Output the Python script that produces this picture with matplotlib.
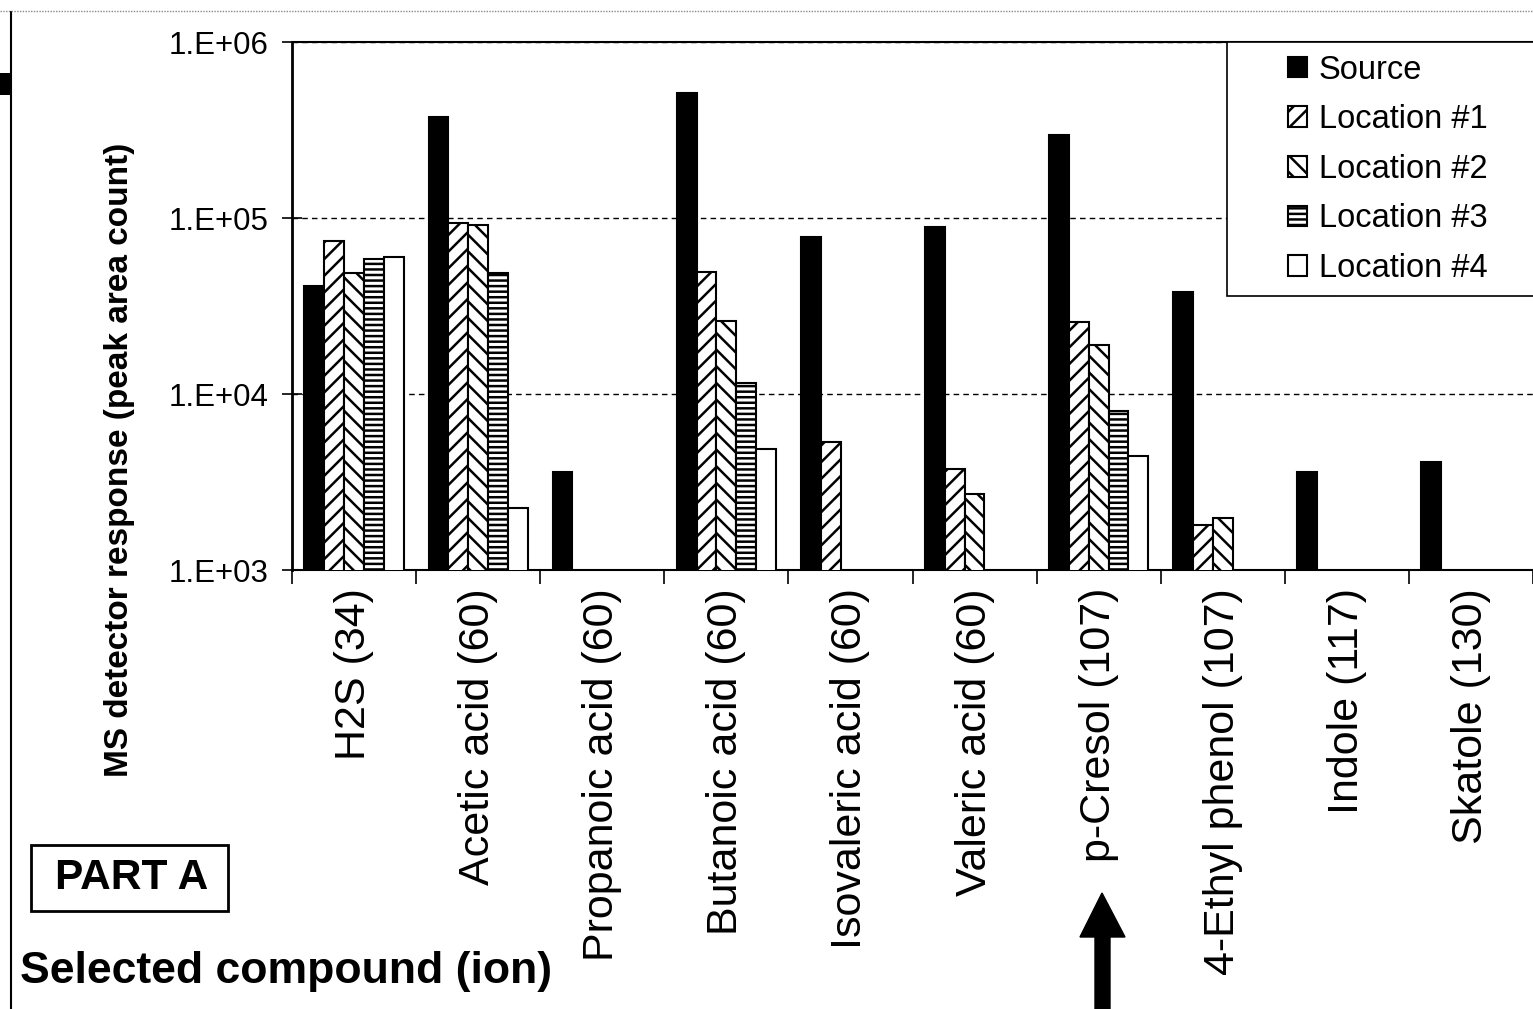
import numpy as np
import matplotlib
matplotlib.use("Agg")
import matplotlib.pyplot as plt
import matplotlib.patches as mpatches
import matplotlib.ticker as mticker

nan = np.nan

compounds = ["H2S (34)", "Acetic acid (60)", "Propanoic acid (60)", "Butanoic acid (60)",
             "Isovaleric acid (60)", "Valeric acid (60)", "p-Cresol (107)",
             "4-Ethyl phenol (107)", "Indole (117)", "Skatole (130)"]

series_names = ["Source", "Location #1", "Location #2", "Location #3", "Location #4"]

source = [41000, 376000, 3590, 510000, 78000, 88900, 298000, 37800, 3590, 4090]
loc1 = [74000, 93700, nan, 49200, 5310, 3740, 25500, 1790, nan, nan]
loc2 = [48900, 91500, nan, 25900, nan, 2700, 19000, 1980, nan, nan]
loc3 = [58600, 48600, nan, 11500, nan, nan, 8040, nan, nan, nan]
loc4 = [60000, 2250, nan, 4860, nan, nan, 4420, nan, nan, nan]

ytick_values = [1e3, 1e4, 1e5, 1e6]
ytick_labels = ["1.E+03", "1.E+04", "1.E+05", "1.E+06"]

W, H = 1533, 1009

plt.rcParams["font.family"] = "Liberation Sans"
plt.rcParams["hatch.linewidth"] = 1.8
plt.rcParams["hatch.color"] = "black"

fig = plt.figure(figsize=(W / 100, H / 100), dpi=100)
fig.patch.set_facecolor("white")


def px(x, y):
    # pixel position (from top-left) -> figure fraction
    return x / W, 1 - y / H


ax = fig.add_axes([292 / W, 1 - 570 / H, (W - 292) / W, (570 - 42) / H])
ax.set_yscale("log")
ax.set_ylim(1e3, 1e6)
ax.set_xlim(0, len(compounds))

styles = [
    dict(color="black", edgecolor="black"),
    dict(color="white", edgecolor="black", hatch="//"),
    dict(color="white", edgecolor="black", hatch="\\\\"),
    dict(color="white", edgecolor="black", hatch="---"),
    dict(color="white", edgecolor="black"),
]

width = 0.16
x = np.arange(len(compounds)) + 0.5
handles = []
for k, (name, vals, st) in enumerate(zip(series_names, [source, loc1, loc2, loc3, loc4], styles)):
    b = ax.bar(x + (k - 2) * width, vals, width=width, bottom=1,
               linewidth=1.5, label=name, zorder=3, **st)
    handles.append(b)

ax.spines["right"].set_visible(False)
ax.spines["left"].set_linewidth(2)
ax.spines["bottom"].set_linewidth(1.5)
ax.spines["top"].set_linewidth(1.5)

ax.set_yticks(ytick_values)
ax.set_yticklabels(ytick_labels)
ax.yaxis.set_minor_locator(mticker.NullLocator())
ax.tick_params(axis="y", which="major", direction="inout", length=14, width=1.2,
               labelsize=22.5, pad=10)
ax.grid(axis="y", which="major", linestyle=(0, (4, 3)), color="black", linewidth=1, zorder=1)

ax.set_xticks(np.arange(len(compounds) + 1))
ax.set_xticklabels([])
ax.set_xticks(x, minor=True)
ax.set_xticklabels(compounds, minor=True, rotation=90)
ax.tick_params(axis="x", which="major", direction="out", length=10, width=1.2)
ax.tick_params(axis="x", which="minor", length=0, labelsize=31, pad=13)

# legend box (white, covers grid) + legend on top
fig.add_artist(mpatches.Rectangle(px(1227, 296), (1540 - 1227) / W, (296 - 42) / H,
                                  transform=fig.transFigure, facecolor="white",
                                  edgecolor="black", linewidth=1.2, zorder=2))
leg = fig.legend(handles, series_names, loc="upper left", bbox_to_anchor=px(1268, 35),
                 frameon=False, fontsize=23.5, handlelength=0.6, handleheight=0.6,
                 handletextpad=0.35, labelspacing=0.57, borderpad=0.1)
leg.set_zorder(5)
for h in leg.legend_handles:
    h.set_linewidth(1.5)

fig.text(*px(120, 460), "MS detector response (peak area count)", rotation=90,
         ha="center", va="center", fontsize=24, fontweight="bold")

# PART A box
fig.add_artist(mpatches.Rectangle(px(31, 911), (228 - 31) / W, (911 - 845) / H,
                                  transform=fig.transFigure, facecolor="none",
                                  edgecolor="black", linewidth=2))
fig.text(*px(132, 878), "PART A", ha="center", va="center", fontsize=30.5, fontweight="bold")

fig.text(*px(20, 972), "Selected compound (ion)", ha="left", va="center",
         fontsize=32, fontweight="bold")

# arrow under p-Cresol
arrow_px = [(1102, 893), (1125, 937), (1110, 937), (1110, 1012), (1095, 1012),
            (1095, 937), (1080, 937)]
fig.add_artist(mpatches.Polygon([px(a, b) for a, b in arrow_px], closed=True,
                                transform=fig.transFigure, facecolor="black",
                                edgecolor="black"))

# scan border on the left edge
fig.add_artist(plt.Line2D([11 / W, 11 / W], [0, 1 - 12 / H], transform=fig.transFigure,
                          color="black", linewidth=1.5))
fig.add_artist(mpatches.Rectangle(px(0, 95), 11 / W, 22 / H, transform=fig.transFigure,
                                  facecolor="black", edgecolor="none"))
fig.add_artist(plt.Line2D([0, 1], [1 - 11 / H, 1 - 11 / H], transform=fig.transFigure,
                          color="#888888", linewidth=1, linestyle=(0, (1, 1))))

fig.savefig("out.png", dpi=100, facecolor="white")
